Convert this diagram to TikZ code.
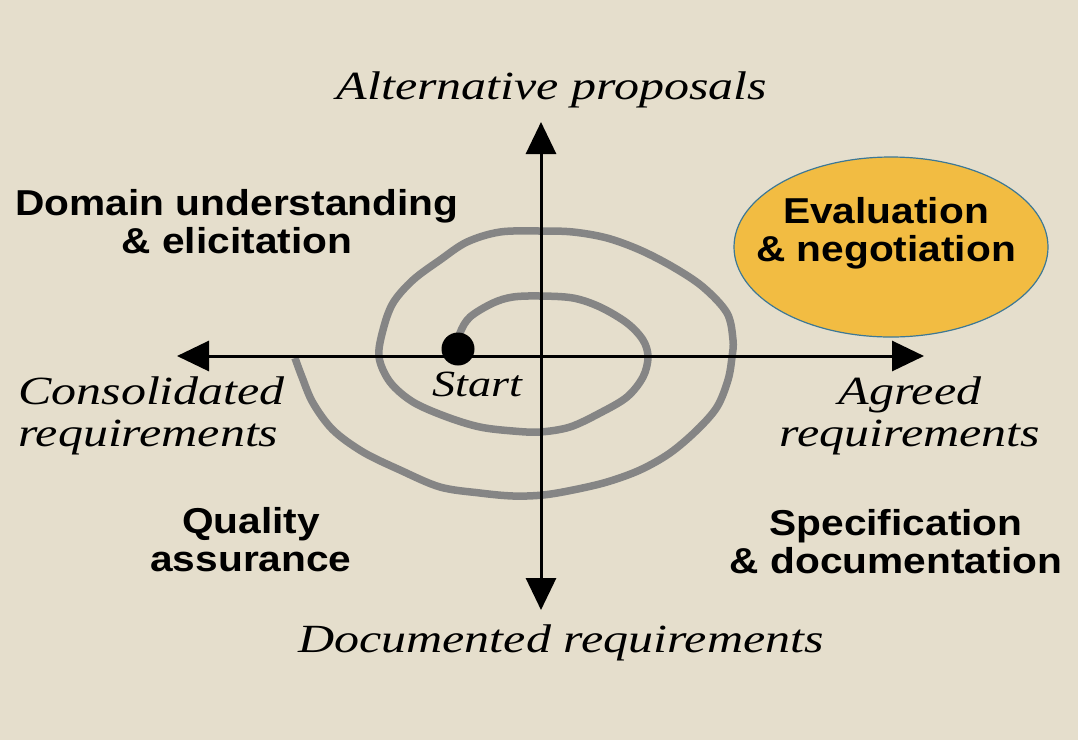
\documentclass[tikz,border=0pt]{standalone}
\usepackage{fontspec}
\setmainfont{Liberation Serif}
\setsansfont{Liberation Sans}
\usetikzlibrary{arrows.meta,shapes.geometric,positioning}
\definecolor{paper}{RGB}{229,222,204}
\definecolor{spiralgray}{RGB}{133,133,133}
\definecolor{evalfill}{RGB}{242,188,66}
\definecolor{evalline}{RGB}{60,120,150}

\begin{document}
\begin{tikzpicture}[x=1pt,y=-1pt,
  outcome/.style={font=\fontsize{40}{42}\selectfont\itshape, xscale=1.25, align=center},
  phase/.style={font=\fontsize{36}{38}\selectfont\sffamily\bfseries, xscale=1.13, align=center},
  axis/.style={line width=3pt, -{Triangle[length=32pt,width=30pt]}}]
\tikzstyle{every node}+=[inner sep=0pt]
\fill [paper] (0,0) rectangle (1078,740);
\useasboundingbox (0,0) rectangle (1078,740);
\draw [spiralgray, line width=7.5pt] plot [smooth, tension=0.55] coordinates {
  (458,349) (460,333) (470,317) (493,303) (513,297) (540,296) (573,298) (600,307)
  (627,323) (643,340) (648,357) (643,377) (627,397) (600,413) (570,427) (540,432)
  (513,431) (480,427) (447,417) (413,402) (390,382) (379,357) (383,330) (393,303)
  (413,280) (440,260) (467,242) (500,232) (540,231) (573,232) (607,238) (640,250)
  (673,267) (703,287) (727,313) (733,340) (732,357) (728,380) (717,407) (697,430)
  (670,453) (640,470) (607,482) (573,490) (543,495) (513,496) (480,493) (440,487)
  (400,470) (363,452) (333,430) (313,403) (302,377) (295,358)};
\coordinate (origin) at (541,356);
\coordinate (north) at (541,122);
\coordinate (south) at (541,610);
\coordinate (west) at (177,356);
\coordinate (east) at (924,356);
\draw [axis] (origin) -- (north);
\draw [axis] (origin) -- (south);
\draw [axis] (origin) -- (west);
\draw [axis] (origin) -- (east);
\node [circle, fill=black, minimum size=33pt] (start) at (458,349) {};
\node [outcome, font=\fontsize{37}{40}\selectfont\itshape] (startlabel) at (477,384) {Start};
\node [outcome] (proposals) at (552,90) {Alternative proposals};
\node [outcome, align=left, anchor=west] (consolidated) at (18,416) {Consolidated\\requirements};
\node [outcome] (agreed) at (910,416) {Agreed\\requirements};
\node [outcome] (documented) at (561,643) {Documented requirements};
\node [phase] (elicitation) at (237,222) {Domain understanding\\\& elicitation};
\node [phase] (quality) at (251,540) {Quality\\assurance};
\node [phase] (specification) at (896,542) {Specification\\\& documentation};
\node [ellipse, draw=evalline, fill=evalfill, line width=1.2pt, minimum width=314pt, minimum height=180pt] (evaluation) at (891,247) {};
\node [phase] (negotiation) at (886,233) {Evaluation\\\& negotiation};
\end{tikzpicture}
\end{document}
